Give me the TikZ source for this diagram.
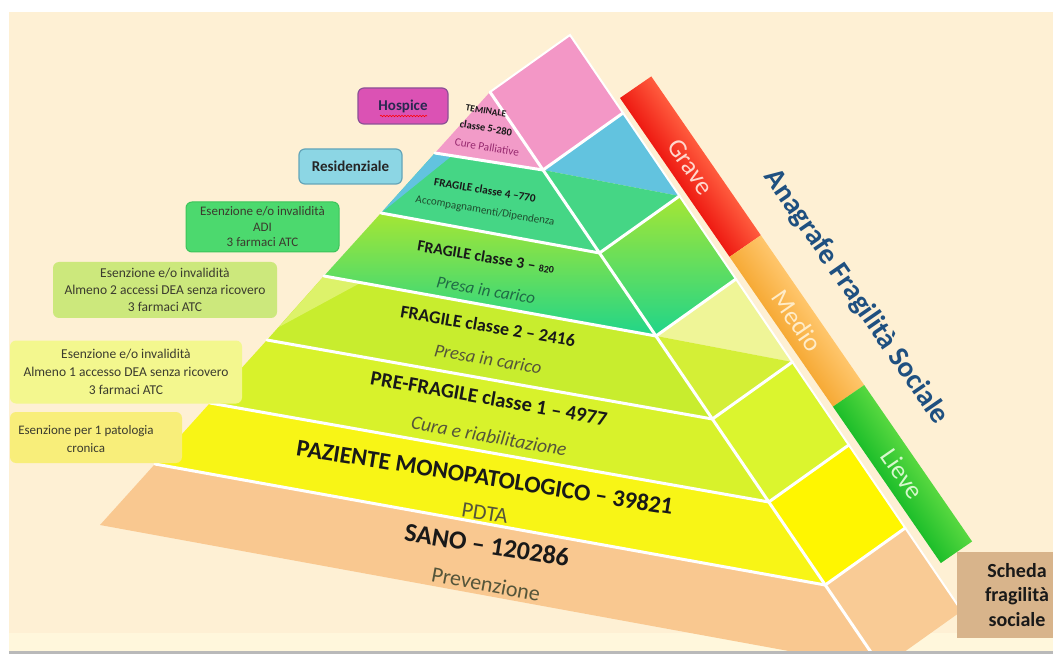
\documentclass[tikz,border=0pt]{standalone}
\usepackage{fontspec}
\setmainfont{Carlito}
\usetikzlibrary{decorations.pathmorphing}
\definecolor{cream}{HTML}{FEF0D4}
\definecolor{creamlt}{HTML}{FFF7DC}
\definecolor{pinkA}{HTML}{F29BC8}
\definecolor{pinkB}{HTML}{F397C6}
\definecolor{blueL}{HTML}{62C3DF}
\definecolor{greenF}{HTML}{45D685}
\definecolor{lthree}{HTML}{A5E634}
\definecolor{lthreeb}{HTML}{1FD58A}
\definecolor{ltwo}{HTML}{C8ED2E}
\definecolor{ltwolt}{HTML}{DDF26A}
\definecolor{lone}{HTML}{D8F22B}
\definecolor{yel}{HTML}{F8F516}
\definecolor{yelR}{HTML}{FFF600}
\definecolor{peach}{HTML}{F9C890}
\definecolor{peachR}{HTML}{F9CB95}
\definecolor{rtwolt}{HTML}{EFF597}
\definecolor{rtwo}{HTML}{D4EF36}
\definecolor{rone}{HTML}{DBF52E}
\definecolor{subgray}{HTML}{55553A}
\definecolor{darkgr}{HTML}{1F6B45}
\definecolor{accgr}{HTML}{1E4B2D}
\definecolor{curecol}{HTML}{96286E}
\definecolor{boxtext}{HTML}{3B3B2E}
\definecolor{navy}{HTML}{1F5080}
\definecolor{graveIn}{HTML}{EE1A12}
\definecolor{graveOut}{HTML}{FF5C3E}
\definecolor{medioIn}{HTML}{F6AA36}
\definecolor{medioOut}{HTML}{FFC66C}
\definecolor{lieveIn}{HTML}{1DBE2A}
\definecolor{lieveOut}{HTML}{58D840}
\definecolor{graveTxt}{HTML}{FFD7CD}
\definecolor{medioTxt}{HTML}{FFECC8}
\definecolor{lieveTxt}{HTML}{D7F8CD}
\definecolor{schedaFill}{HTML}{D8B48B}
\definecolor{hospFill}{HTML}{DB52B4}
\definecolor{hospDraw}{HTML}{8C5096}
\definecolor{hospTxt}{HTML}{282850}
\definecolor{resFill}{HTML}{8CD6E4}
\definecolor{resDraw}{HTML}{64A5B9}
\definecolor{adiFill}{HTML}{4CD96E}
\definecolor{adiDraw}{HTML}{3CC45A}
\definecolor{deaTwo}{HTML}{CCE87C}
\definecolor{deaOne}{HTML}{F3F78E}
\definecolor{patFill}{HTML}{F8EE7A}
\newcommand{\fsz}[2]{\fontsize{#1}{#2}\selectfont}
\tikzset{
  sepline/.style={white, line width=3pt, line cap=round},
  lbl/.style={inner sep=0pt, text=black!90},
  sublbl/.style={inner sep=0pt, text=subgray},
  lbox/.style={rounded corners=6pt, align=center, inner sep=0pt, text=boxtext},
  barlbl/.style={inner sep=0pt, font=\fsz{26}{28}},
}
\begin{document}
\begin{tikzpicture}[x=1pt,y=-1pt]
\useasboundingbox (0,0) rectangle (1053,655);
% background
\fill[white] (0,0) rectangle (1053,655);
\fill[cream] (9,12) rectangle (1053,652);
\fill[creamlt] (9,633) rectangle (1053,651);
\fill[gray!55] (9,651) rectangle (1053,654);

% pyramid geometry
\coordinate (P) at (490,92);   \coordinate (Q) at (570,35);
\coordinate (C1) at (543,170);   \coordinate (R1) at (623,113);
\coordinate (C2) at (599.5,253); \coordinate (R2) at (679.5,196);
\coordinate (C3) at (656,336);   \coordinate (R3) at (736,279);
\coordinate (C4) at (712.4,419); \coordinate (R4) at (792.4,362);
\coordinate (C5) at (768.8,502); \coordinate (R5) at (848.8,445);
\coordinate (C6) at (825.2,585); \coordinate (R6) at (905.2,528);
\coordinate (C7) at (881.7,668); \coordinate (R7) at (961.7,611);
\coordinate (L1) at (435,153);
\coordinate (L2) at (381,213);
\coordinate (L3) at (324,276);
\coordinate (L4) at (267,340);
\coordinate (L5) at (210,403);
\coordinate (L6) at (155,464);
\coordinate (L7) at (100,525);

\begin{scope}
\clip (9,12) rectangle (1053,650);
% front face
\fill[pinkA] (P) -- (C1) -- (L1) -- cycle;
\fill[greenF] (L1) -- (C1) -- (C2) -- (L2) -- cycle;
\fill[blueL] (L1) -- (452,155.7) -- (L2) -- cycle;
\shade[top color=lthree, bottom color=lthreeb] (L2) -- (C2) -- (C3) -- (L3) -- cycle;
\fill[ltwo] (L3) -- (C3) -- (C4) -- (L4) -- cycle;
\fill[ltwolt] (L3) -- (362,282) -- (279,327) -- cycle;
\fill[lone] (L4) -- (C4) -- (C5) -- (L5) -- cycle;
\fill[yel] (L5) -- (C5) -- (C6) -- (L6) -- cycle;
\fill[peach] (L6) -- (C6) -- (C7) -- (L7) -- cycle;
% right face
\fill[pinkB] (P) -- (Q) -- (R1) -- (C1) -- cycle;
\fill[blueL] (C1) -- (R1) -- (R2) -- cycle;
\fill[greenF] (C1) -- (R2) -- (C2) -- cycle;
\shade[top color=lthree, bottom color=lthreeb] (C2) -- (R2) -- (R3) -- (C3) -- cycle;
\fill[rtwolt] (C3) -- (R3) -- (R4) -- cycle;
\fill[rtwo] (C3) -- (R4) -- (C4) -- cycle;
\fill[rone] (C4) -- (R4) -- (R5) -- (C5) -- cycle;
\fill[yelR] (C5) -- (R5) -- (R6) -- (C6) -- cycle;
\fill[peachR] (C6) -- (R6) -- (R7) -- (C7) -- cycle;
% white separators
\foreach \i in {1,...,6} {\draw[sepline] (L\i) -- (C\i) -- (R\i);}
\draw[sepline] (P) -- (C7);
\draw[sepline, line width=2pt] (P) -- (Q) -- (R7);
\end{scope}

% pyramid labels
\node[lbl, rotate=-9.5, font=\bfseries\fsz{9.5}{10}] (t5a) at (486,111) {TEMINALE};
\node[lbl, rotate=-9.5, font=\bfseries\fsz{10.5}{11}] (t5b) at (486,128) {classe 5-280};
\node[sublbl, rotate=-9.5, text=curecol, font=\fsz{11.3}{12}] (t5c) at (487,147) {Cure Palliative};
\node[lbl, rotate=-9.5, font=\bfseries\fsz{11.3}{12}] (t4a) at (485,190) {FRAGILE classe 4 –770};
\node[sublbl, rotate=-9.5, text=accgr, font=\fsz{11}{12}] (t4b) at (485,211) {Accompagnamenti/Dipendenza};
\node[lbl, rotate=-9.5, font=\bfseries\fsz{15.8}{16}] (t3a) at (486,257) {FRAGILE classe 3 – {\fsz{10}{10}820}};
\node[sublbl, rotate=-9.5, text=darkgr, font=\itshape\fsz{17}{18}] (t3b) at (486,290) {Presa in carico};
\node[lbl, rotate=-9.5, font=\bfseries\fsz{18}{19}] (t2a) at (488,326) {FRAGILE classe 2 – 2416};
\node[sublbl, rotate=-9.5, font=\itshape\fsz{18.5}{19}] (t2b) at (488,359) {Presa in carico};
\node[lbl, rotate=-10, font=\bfseries\fsz{20.5}{21}] (t1a) at (489,398) {PRE-FRAGILE classe 1 – 4977};
\node[sublbl, rotate=-10, font=\itshape\fsz{19.5}{20}] (t1b) at (489,436) {Cura e riabilitazione};
\node[lbl, rotate=-9, font=\bfseries\fsz{24}{25}] (t0a) at (485,477) {PAZIENTE MONOPATOLOGICO – 39821};
\node[sublbl, rotate=-9, font=\fsz{22}{23}] (t0b) at (485,513) {PDTA};
\node[lbl, rotate=-9, font=\bfseries\fsz{26}{27}] (tsa) at (487,545) {SANO – 120286};
\node[sublbl, rotate=-10.5, font=\fsz{22}{23}] (tsb) at (486,584) {Prevenzione};

% side bars
\begin{scope}[transform canvas={shift={(620,98)}, rotate=-55.4}]
  \shade[top color=graveOut, bottom color=graveIn] (0,0) rectangle (193,-38);
  \shade[top color=medioOut, bottom color=medioIn] (193,0) rectangle (375,-38);
  \shade[top color=lieveOut, bottom color=lieveIn] (375,0) rectangle (565,-38);
  \node[barlbl, text=graveTxt] (grave) at (96.5,-19) {Grave};
  \node[barlbl, text=medioTxt] (medio) at (284,-19) {Medio};
  \node[barlbl, text=lieveTxt] (lieve) at (470,-19) {Lieve};
\end{scope}
\node[inner sep=0pt, rotate=-55.4, text=navy, font=\bfseries\fsz{29}{30}] (anag) at (856,297) {Anagrafe Fragilità Sociale};

% Scheda box
\fill[schedaFill] (957,552) rectangle (1053,638);
\node[align=center, inner sep=0pt, text=black!90, font=\bfseries\fsz{20}{24.5}] (scheda) at (1017,595) {Scheda\\fragilità\\sociale};

% left boxes
\node[lbox, draw=hospDraw, line width=1.2pt, fill=hospFill,
      minimum width=90pt, minimum height=36pt, text=hospTxt, font=\bfseries\fsz{15}{16}] (hospice) at (403,106) {Hospice};
\draw[red, line width=0.6pt, decorate, decoration={snake, amplitude=0.7pt, segment length=3pt}] (380,116) -- (427,116);
\node[lbox, draw=resDraw, line width=1.2pt, fill=resFill,
      minimum width=103pt, minimum height=35pt, text=black!85, font=\bfseries\fsz{15}{16}] (resid) at (350.5,166.5) {Residenziale};
\node[lbox, draw=adiDraw, line width=1pt, fill=adiFill,
      minimum width=153pt, minimum height=50pt, font=\fsz{13}{15.5}] (adi) at (262.5,227) {Esenzione e/o invalidità\\ADI\\3 farmaci ATC};
\node[lbox, fill=deaTwo,
      minimum width=224pt, minimum height=56pt, font=\fsz{13.5}{17}] (dea2) at (165,290) {Esenzione e/o invalidità\\Almeno 2 accessi DEA senza ricovero\\3 farmaci ATC};
\node[lbox, fill=deaOne,
      minimum width=232pt, minimum height=63pt, font=\fsz{13.5}{18}] (dea1) at (126,372) {Esenzione e/o invalidità\\Almeno 1 accesso DEA senza ricovero\\3 farmaci ATC};
\fill[patFill, rounded corners=6pt] (10,412) rectangle (182,463);
\node[lbox, font=\fsz{13}{18}] (patol) at (86,439) {Esenzione per 1 patologia\\cronica};
\end{tikzpicture}
\end{document}
